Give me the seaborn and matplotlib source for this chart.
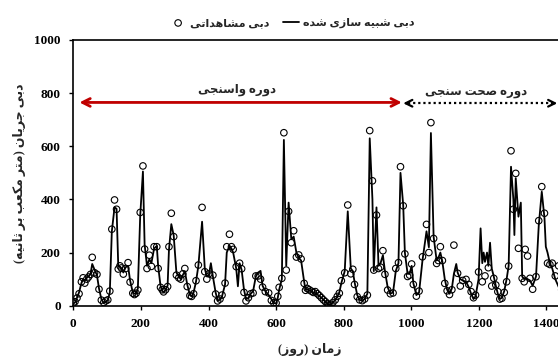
import numpy as np
import pandas as pd
import matplotlib
matplotlib.use("Agg")
import matplotlib.pyplot as plt
import seaborn as sns

nan = np.nan
days = [0, 5, 11, 17, 24, 29, 34, 40, 45, 51, 56, 63, 70, 76, 83, 90, 96, 102, 108, 114,
        122, 128, 133, 138, 142, 148, 155, 162, 168, 176, 181, 186, 191, 198, 206, 211, 218, 225, 231, 239,
        247, 251, 258, 263, 267, 273, 279, 283, 290, 297, 305, 312, 318, 324, 330, 337, 345, 350, 356, 363,
        370, 381, 389, 395, 401, 407, 413, 421, 427, 434, 440, 449, 454, 462, 468, 473, 482, 487, 492, 498,
        505, 511, 518, 525, 532, 540, 547, 554, 560, 568, 578, 586, 593, 600, 605, 609, 617, 623, 630, 637,
        645, 652, 660, 667, 674, 683, 687, 692, 698, 704, 710, 716, 722, 728, 734, 740, 746, 752, 756, 762,
        768, 775, 781, 787, 793, 803, 812, 821, 827, 832, 840, 847, 855, 862, 870, 877, 885, 889, 897, 903,
        909, 916, 922, 930, 938, 946, 954, 962, 968, 976, 981, 989, 995, 1001, 1006, 1015, 1023, 1033, 1045, 1052,
        1058, 1066, 1075, 1080, 1086, 1092, 1099, 1106, 1113, 1120, 1126, 1133, 1137, 1145, 1152, 1162, 1170, 1177, 1184, 1190,
        1199, 1205, 1210, 1214, 1218, 1224, 1228, 1233, 1238, 1244, 1250, 1256, 1262, 1268, 1275, 1282, 1288, 1295, 1302, 1305,
        1309, 1317, 1324, 1328, 1334, 1337, 1344, 1351, 1359, 1369, 1377, 1386, 1394, 1398, 1403, 1410, 1417, 1426, 1436, 1445]

observed = [10, 15, 29, 45, 90, 105, 85, 100, 108, 118, 182, 124, 118, 62, 21, 12, 18, 22, 55, 288,
            398, 363, 138, 150, 142, 119, 140, 162, 89, 47, 42, 47, 59, 351, 526, 213, 140, 190, 148, 222,
            222, 140, 69, 60, 52, 60, 72, 222, 348, 260, 115, 105, 100, 120, 140, 72, 38, 35, 45, 94,
            153, 370, 128, 100, 120, nan, 115, 44, 18, 25, 40, 85, 222, 269, 222, 212, 147, nan, 160, 139,
            50, 18, 30, 45, 48, 112, 112, 100, 70, 53, 48, 20, 11, 10, 35, 69, 103, 651, 134, 355,
            237, 282, 183, 191, 176, 84, 58, 65, 60, 55, 50, 53, 45, 38, 30, 22, 15, 8, 3, 5,
            12, 22, 35, 47, 94, 124, 379, 120, 137, 80, 34, 22, 19, 25, 40, 659, 470, 134, 341, 140,
            145, 207, 118, 59, 45, 48, 140, 162, 523, 376, 195, 110, 115, 157, 80, 36, 55, 184, 306, 200,
            689, 253, 159, 170, 222, 170, 84, 56, 42, 60, 228, nan, 122, 74, 95, 99, 80, 53, 30, 40,
            127, nan, 90, nan, 112, nan, 143, nan, 74, 103, 78, 53, 25, 28, 50, 90, 149, 583, 363, nan,
            498, 216, nan, 103, 90, 212, 187, 103, 62, 109, 320, 448, 348, nan, 160, 155, 160, 112, 150, 60]

simulated = [8, 12, 30, 50, 85, 100, 95, 105, 110, 120, 157, 135, 115, 65, 25, 10, 15, 20, 50, 280,
             370, 365, 150, 145, 140, 125, 145, 150, 95, 50, 45, 45, 65, 340, 505, 230, 150, 175, 160, 215,
             225, 150, 75, 55, 50, 60, 75, 210, 307, 265, 125, 110, 100, 115, 130, 80, 40, 35, 50, 90,
             150, 316, 140, 110, 115, 160, 110, 50, 20, 22, 35, 80, 200, 225, 215, 200, 140, 73, 160, 135,
             60, 25, 28, 45, 55, 110, 125, 131, 75, 55, 40, 25, 10, 8, 30, 60, 100, 624, 150, 388,
             250, 260, 200, 180, 170, 90, 60, 62, 58, 55, 50, 48, 42, 36, 30, 22, 15, 8, 3, 5,
             12, 22, 35, 50, 85, 130, 355, 140, 130, 90, 40, 22, 18, 25, 45, 630, 400, 130, 370, 150,
             160, 190, 130, 70, 45, 50, 130, 160, 500, 380, 200, 120, 120, 150, 85, 40, 50, 170, 280, 220,
             650, 260, 170, 180, 200, 165, 100, 60, 45, 65, 120, 157, 125, 100, 95, 90, 70, 45, 25, 35,
             100, 291, 160, 200, 165, 200, 150, 237, 140, 110, 75, 45, 25, 30, 55, 100, 150, 523, 400, 266,
             480, 335, 388, 110, 100, 105, 100, 95, 75, 110, 300, 429, 330, 222, 200, 160, 140, 100, 70, 50]

x_ticks = [0, 200, 400, 600, 800, 1000, 1200, 1400]
y_ticks = [0, 200, 400, 600, 800, 1000]

label_obs = "دبی مشاهداتی"
label_sim = "دبی شبیه سازی شده"
label_cal = "دوره واسنجی"
label_val = "دوره صحت سنجی"
label_y = "دبی جریان (متر مکعب بر ثانیه)"
label_x = "زمان (روز)"

# ---- minimal Persian shaping (matplotlib has no complex text layout) ----
FORMS = {
    '\u0627': ('\uFE8D', '\uFE8E', None, None),
    '\u0628': ('\uFE8F', '\uFE90', '\uFE91', '\uFE92'),
    '\u062A': ('\uFE95', '\uFE96', '\uFE97', '\uFE98'),
    '\u062B': ('\uFE99', '\uFE9A', '\uFE9B', '\uFE9C'),
    '\u062C': ('\uFE9D', '\uFE9E', '\uFE9F', '\uFEA0'),
    '\u062D': ('\uFEA1', '\uFEA2', '\uFEA3', '\uFEA4'),
    '\u062F': ('\uFEA9', '\uFEAA', None, None),
    '\u0631': ('\uFEAD', '\uFEAE', None, None),
    '\u0632': ('\uFEAF', '\uFEB0', None, None),
    '\u0633': ('\uFEB1', '\uFEB2', '\uFEB3', '\uFEB4'),
    '\u0634': ('\uFEB5', '\uFEB6', '\uFEB7', '\uFEB8'),
    '\u0635': ('\uFEB9', '\uFEBA', '\uFEBB', '\uFEBC'),
    '\u0639': ('\uFEC9', '\uFECA', '\uFECB', '\uFECC'),
    '\u0645': ('\uFEE1', '\uFEE2', '\uFEE3', '\uFEE4'),
    '\u0646': ('\uFEE5', '\uFEE6', '\uFEE7', '\uFEE8'),
    '\u0647': ('\uFEE9', '\uFEEA', '\uFEEB', '\uFEEC'),
    '\u0648': ('\uFEED', '\uFEEE', None, None),
    '\u06A9': ('\uFB8E', '\uFB8F', '\uFB90', '\uFB91'),
    '\u06CC': ('\uFBFC', '\uFBFD', '\uFBFE', '\uFBFF'),
}


def fa(s):
    s = s.replace('\u064A', '\u06CC').replace('\u0643', '\u06A9').replace('\u200C', '')
    out = []
    n = len(s)
    for i, c in enumerate(s):
        if c not in FORMS:
            out.append(c)
            continue
        f = FORMS[c]
        prev = s[i - 1] if i > 0 else ''
        nxt = s[i + 1] if i < n - 1 else ''
        jp = prev in FORMS and FORMS[prev][2] is not None
        jn = f[2] is not None and nxt in FORMS
        if jp and jn:
            out.append(f[3])
        elif jp:
            out.append(f[1])
        elif jn:
            out.append(f[2])
        else:
            out.append(f[0])
    vis = ''.join(reversed(out))
    return vis.translate(str.maketrans('()', ')('))


sns.set_theme(style="ticks")
plt.rcParams['font.family'] = ['Liberation Serif', 'DejaVu Sans']
plt.rcParams['font.weight'] = 'bold'
plt.rcParams['axes.labelweight'] = 'bold'

df = pd.DataFrame({"day": days, "obs": observed, "sim": simulated})

fig = plt.figure(figsize=(5.58, 3.6), dpi=100)
ax_w = 1500 * 0.338 / 558
ax = fig.add_axes([73.3 / 558, 54.3 / 360, ax_w, 265.7 / 360])

sns.lineplot(data=df, x="day", y="sim", ax=ax, color="black", lw=1.3,
             estimator=None, sort=False, label=fa(label_sim))
sns.scatterplot(data=df, x="day", y="obs", ax=ax, marker="o", s=22,
                facecolor="none", edgecolor="black", linewidth=0.8, label=fa(label_obs))

ax.set_xlim(0, 1500)
ax.set_ylim(0, 1000)
ax.set_xticks(x_ticks)
ax.set_yticks(y_ticks)
ax.set_xticklabels([str(t) for t in x_ticks])
ax.set_yticklabels([str(t) for t in y_ticks])
ax.tick_params(labelsize=9.5, length=3, width=1, colors="black", pad=6)
for lbl in ax.get_xticklabels() + ax.get_yticklabels():
    lbl.set_fontweight('bold')
for sp in ax.spines.values():
    sp.set_visible(True)
    sp.set_linewidth(1.2)
    sp.set_color("black")
ax.set_xlabel("")
ax.set_ylabel(fa(label_y), fontsize=9, fontweight='bold', labelpad=6)
fig.text(310 / 558, 1 - 349 / 360, fa(label_x), ha="center", va="center",
         fontsize=9, fontweight='bold')

# period annotations
ax.annotate("", xy=(18, 765), xytext=(972, 765),
            arrowprops=dict(arrowstyle="<->", color="#c00000", lw=2, mutation_scale=14,
                            shrinkA=0, shrinkB=0))
ax.text(483, 812, fa(label_cal), ha="center", va="center", fontsize=8.5, fontweight='bold')
ax.plot([990, 1418], [762, 762], color="black", lw=1.6, ls=(0, (1, 1.3)))
ax.annotate("", xy=(976, 762), xytext=(992, 762),
            arrowprops=dict(arrowstyle="->", color="black", lw=1.6, mutation_scale=12,
                            shrinkA=0, shrinkB=0))
ax.annotate("", xy=(1432, 762), xytext=(1416, 762),
            arrowprops=dict(arrowstyle="->", color="black", lw=1.6, mutation_scale=12,
                            shrinkA=0, shrinkB=0))
ax.text(1193, 800, fa(label_val), ha="center", va="center", fontsize=8.5, fontweight='bold')

handles, labels = ax.get_legend_handles_labels()
ax.legend([handles[1], handles[0]], [labels[1], labels[0]], loc="center",
          bbox_to_anchor=(292 / 558, 1 - 23 / 360), bbox_transform=fig.transFigure,
          ncol=2, frameon=False, handlelength=1.5, handletextpad=0.3,
          columnspacing=1.2, borderpad=0.2, prop={'weight': 'bold', 'size': 8})

fig.savefig("out.png", dpi=100)
